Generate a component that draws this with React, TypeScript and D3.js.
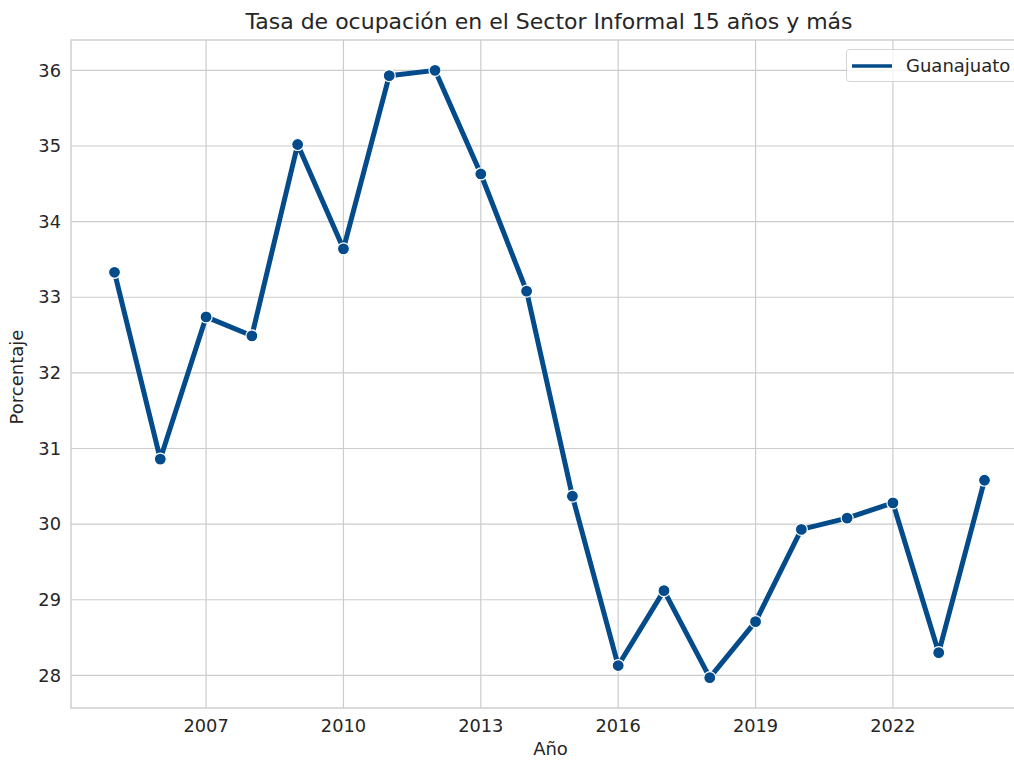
import React from "react";
import * as d3 from "d3";

const years = [2005, 2006, 2007, 2008, 2009, 2010, 2011, 2012, 2013, 2014, 2015, 2016, 2017, 2018, 2019, 2020, 2021, 2022, 2023, 2024];
const values = [33.33, 30.86, 32.74, 32.49, 35.02, 33.64, 35.93, 36.0, 34.63, 33.08, 30.37, 28.13, 29.12, 27.97, 28.71, 29.93, 30.08, 30.28, 28.3, 30.58];
const xTicks = [2007, 2010, 2013, 2016, 2019, 2022];
const yTicks = [28, 29, 30, 31, 32, 33, 34, 35, 36];

const W = 1014, H = 762;
const left = 71, right = 1028, top = 40, bottom = 708;
const color = "#034b8a";
const font = "DejaVu Sans, sans-serif";

export default function App() {
  const pad = (2024 - 2005) * 0.05;
  const x = d3.scaleLinear().domain([2005 - pad, 2024 + pad]).range([left, right]);
  const yMin = d3.min(values)!, yMax = d3.max(values)!;
  const yp = (yMax - yMin) * 0.05;
  const y = d3.scaleLinear().domain([yMin - yp, yMax + yp]).range([bottom, top]);
  const line = d3.line<number>().x((_, i) => x(years[i])).y((d) => y(d));
  return (
    <svg width={W} height={H} style={{ display: "block", position: "absolute", left: 0, top: 0 }} fontFamily={font}>
      <rect width={W} height={H} fill="#fff" />
      {xTicks.map((t) => (
        <line key={"gx" + t} x1={x(t)} x2={x(t)} y1={top} y2={bottom} stroke="#cccccc" strokeWidth={1.2} />
      ))}
      {yTicks.map((t) => (
        <line key={"gy" + t} x1={left} x2={right} y1={y(t)} y2={y(t)} stroke="#cccccc" strokeWidth={1.2} />
      ))}
      <rect x={left} y={top} width={right - left} height={bottom - top} fill="none" stroke="#cccccc" strokeWidth={1.4} />
      {xTicks.map((t) => (
        <text key={"tx" + t} x={x(t)} y={bottom + 24} textAnchor="middle" fontSize={17.8} fill="#262626">{t}</text>
      ))}
      {yTicks.map((t) => (
        <text key={"ty" + t} x={left - 10} y={y(t)} dy="0.35em" textAnchor="end" fontSize={17.8} fill="#262626">{t}</text>
      ))}
      <text x={(left + 1014) / 2 + 8} y={755} textAnchor="middle" fontSize={18} fill="#262626">Año</text>
      <text transform={`translate(23,${(top + bottom) / 2 + 3}) rotate(-90)`} textAnchor="middle" fontSize={18} fill="#262626">Porcentaje</text>
      <text x={549} y={29} textAnchor="middle" fontSize={22} fill="#262626">Tasa de ocupación en el Sector Informal 15 años y más</text>
      <path d={line(values) ?? ""} fill="none" stroke={color} strokeWidth={5} strokeLinejoin="round" strokeLinecap="round" />
      {values.map((v, i) => (
        <circle key={i} cx={x(years[i])} cy={y(v)} r={6} fill={color} stroke="#fff" strokeWidth={1.2} />
      ))}
      <g>
        <rect x={846.5} y={49.5} width={180} height={32} rx={3} fill="#fff" fillOpacity={0.8} stroke="#d6d6d6" strokeWidth={1} />
        <line x1={852} x2={892} y1={66} y2={66} stroke={color} strokeWidth={3.5} />
        <text x={906} y={66} dy="0.35em" fontSize={18} fill="#262626">Guanajuato</text>
      </g>
    </svg>
  );
}
